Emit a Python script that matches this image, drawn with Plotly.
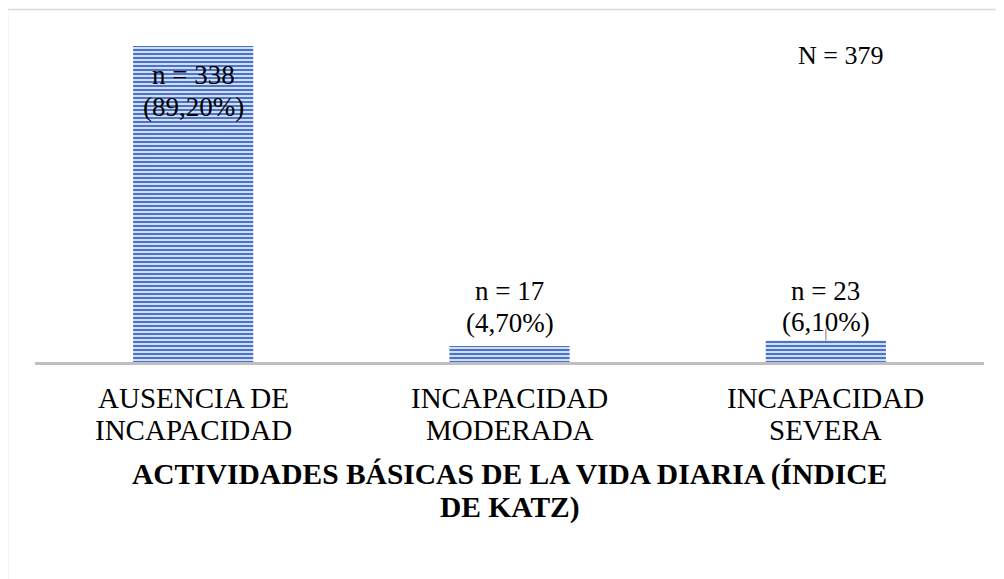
import plotly.graph_objects as go

categories = ["AUSENCIA DE<br>INCAPACIDAD", "INCAPACIDAD<br>MODERADA", "INCAPACIDAD<br>SEVERA"]
counts = [338, 17, 23]
percents = ["89,20%", "4,70%", "6,10%"]
total_label = "N = 379"
axis_title_lines = ["ACTIVIDADES BÁSICAS DE LA VIDA DIARIA (ÍNDICE", "DE KATZ)"]

FONT = "'Liberation Serif', 'Times New Roman', serif"
OFF = 8  # page body margin
W, H = 1004 - OFF, 579 - OFF
ML, MR, MT, MB = 35 - OFF, 20, 20 - OFF, 217
plot_w = W - ML - MR
plot_h = H - MT - MB
px_per_unit = 316 / 338.0
ymax = plot_h / px_per_unit


def px_x(xp):
    return (xp - OFF - ML) / plot_w


def px_y(yp):
    return (H - MB - (yp - OFF)) / plot_h


fig = go.Figure()
fig.add_trace(go.Bar(
    x=list(range(len(categories))),
    y=counts,
    width=0.38,
    marker=dict(
        color="#c9d6ef",
        line=dict(width=0),
        pattern=dict(shape="-", fgcolor="#4a74c9", bgcolor="#d3ddf2",
                     size=4, solidity=0.5, fillmode="replace"),
    ),
    hoverinfo="skip",
))

ann = []
label_shifts = [(-29, -61), (55, 23), (50, 19)]
for i, (c, p) in enumerate(zip(counts, percents)):
    s1, s2 = label_shifts[i]
    ann.append(dict(x=i, y=c, xref="x", yref="y", text=f"n = {c}", showarrow=False,
                    xanchor="center", yanchor="middle", yshift=s1,
                    font=dict(family=FONT, size=27, color="black")))
    ann.append(dict(x=i, y=c, xref="x", yref="y", text=f"({p})", showarrow=False,
                    xanchor="center", yanchor="middle", yshift=s2,
                    font=dict(family=FONT, size=27, color="black")))

for i, cat in enumerate(categories):
    for j, ln in enumerate(cat.split("<br>")):
        ann.append(dict(x=i, y=0, xref="x", yref="paper", text=ln, showarrow=False,
                        xanchor="center", yanchor="middle", yshift=-36 - 32 * j,
                        font=dict(family=FONT, size=29, color="black")))

for j, ln in enumerate(axis_title_lines):
    ann.append(dict(x=px_x(509.5), y=0, xref="paper", yref="paper",
                    text=f"<b>{ln}</b>", showarrow=False, xanchor="center", yanchor="middle",
                    yshift=-112 - 33 * j, font=dict(family=FONT, size=29.5, color="black")))

ann.append(dict(x=px_x(840), y=px_y(55), xref="paper", yref="paper",
                text=total_label, showarrow=False, xanchor="center", yanchor="middle",
                font=dict(family=FONT, size=26, color="black")))

shapes = [
    dict(type="line", xref="x", yref="y", x0=2, x1=2, y0=counts[2], y1=counts[2] + 12 / px_per_unit,
         line=dict(color="#a6a6a6", width=1.5)),
    dict(type="rect", xref="paper", yref="paper",
         x0=px_x(7.5), x1=1.1,
         y0=-0.8, y1=px_y(9.5),
         line=dict(color="#d9d9d9", width=1.5), fillcolor="rgba(0,0,0,0)", layer="below"),
]

fig.update_layout(
    width=W, height=H,
    margin=dict(l=ML, r=MR, t=MT, b=MB),
    paper_bgcolor="white", plot_bgcolor="white",
    showlegend=False,
    xaxis=dict(range=[-0.5, 2.5], showticklabels=False, ticks="", showgrid=False,
               zeroline=False, showline=True, linecolor="#bfbfbf", linewidth=3, fixedrange=True),
    yaxis=dict(range=[0, ymax], visible=False, showgrid=False, zeroline=False, fixedrange=True),
    annotations=ann,
    shapes=shapes,
)

fig.write_html("out.html")
